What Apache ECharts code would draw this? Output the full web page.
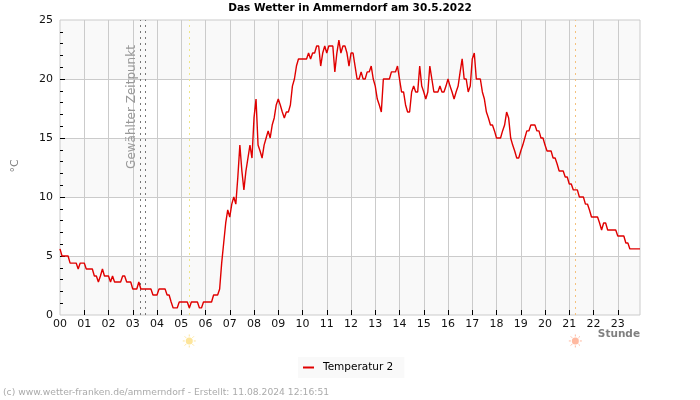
<!DOCTYPE html>
<html>
<head>
<meta charset="utf-8">
<title>Das Wetter in Ammerndorf</title>
<script src="https://cdn.jsdelivr.net/npm/echarts@6/dist/echarts.min.js"></script>
<style>
  html, body { margin: 0; padding: 0; background: #fff; }
  #chart { width: 700px; height: 400px; }
</style>
</head>
<body>
<div id="chart"></div>
<script>
// Temperatur 2, one row per hour, 5 minute readings
const temps = [
  5.6, 5.0, 5.0, 5.0, 5.0, 4.4, 4.4, 4.4, 4.4, 3.9, 4.4, 4.4,
  4.4, 3.9, 3.9, 3.9, 3.9, 3.3, 3.3, 2.8, 3.3, 3.9, 3.3, 3.3,
  3.3, 2.8, 3.3, 2.8, 2.8, 2.8, 2.8, 3.3, 3.3, 2.8, 2.8, 2.8,
  2.2, 2.2, 2.2, 2.8, 2.2, 2.2, 2.2, 2.2, 2.2, 2.2, 1.7, 1.7,
  1.7, 2.2, 2.2, 2.2, 2.2, 1.7, 1.7, 1.1, 0.6, 0.6, 0.6, 1.1,
  1.1, 1.1, 1.1, 1.1, 0.6, 1.1, 1.1, 1.1, 1.1, 0.6, 0.6, 1.1,
  1.1, 1.1, 1.1, 1.1, 1.7, 1.7, 1.7, 2.2, 4.4, 6.1, 7.8, 8.9,
  8.3, 9.4, 10.0, 9.4, 11.7, 14.4, 12.2, 10.6, 12.2, 13.3, 14.4, 13.3,
  16.7, 18.3, 14.4, 13.9, 13.3, 14.4, 15.0, 15.6, 15.0, 16.1, 16.7, 17.8,
  18.3, 17.8, 17.2, 16.7, 17.2, 17.2, 17.8, 19.4, 20.0, 21.1, 21.7, 21.7,
  21.7, 21.7, 21.7, 22.2, 21.7, 22.2, 22.2, 22.8, 22.8, 21.1, 22.2, 22.8,
  22.2, 22.8, 22.8, 22.8, 20.6, 22.2, 23.3, 22.2, 22.8, 22.8, 22.2, 21.1,
  22.2, 22.2, 21.1, 20.0, 20.0, 20.6, 20.0, 20.0, 20.6, 20.6, 21.1, 20.0,
  19.4, 18.3, 17.8, 17.2, 20.0, 20.0, 20.0, 20.0, 20.6, 20.6, 20.6, 21.1,
  20.0, 18.9, 18.9, 17.8, 17.2, 17.2, 18.9, 19.4, 18.9, 18.9, 21.1, 19.4,
  18.9, 18.3, 18.9, 21.1, 20.0, 18.9, 18.9, 18.9, 19.4, 18.9, 18.9, 19.4,
  20.0, 19.4, 18.9, 18.3, 18.9, 19.4, 20.6, 21.7, 20.0, 20.0, 18.9, 19.4,
  21.7, 22.2, 20.0, 20.0, 20.0, 18.9, 18.3, 17.2, 16.7, 16.1, 16.1, 15.6,
  15.0, 15.0, 15.0, 15.6, 16.1, 17.2, 16.7, 15.0, 14.4, 13.9, 13.3, 13.3,
  13.9, 14.4, 15.0, 15.6, 15.6, 16.1, 16.1, 16.1, 15.6, 15.6, 15.0, 15.0,
  14.4, 13.9, 13.9, 13.9, 13.3, 13.3, 12.8, 12.2, 12.2, 12.2, 11.7, 11.7,
  11.1, 11.1, 10.6, 10.6, 10.6, 10.0, 10.0, 10.0, 9.4, 9.4, 8.9, 8.3,
  8.3, 8.3, 8.3, 7.8, 7.2, 7.8, 7.8, 7.2, 7.2, 7.2, 7.2, 7.2,
  6.7, 6.7, 6.7, 6.7, 6.1, 6.1, 5.6, 5.6, 5.6, 5.6, 5.6, 5.6
];
const selectedHours = [3.29, 3.52];
const sunHours = [5.33, 21.25];
const sunColors = ['#fde59a', '#ffb9a0'];
const hourTicks = [1, 2, 3, 4, 5, 6, 7, 8, 9, 10, 11, 12, 13, 14, 15, 16, 17, 18, 19, 20, 21, 22, 23];
const tempMajorTicks = [5, 10, 15, 20];
const tempMinorTicks = [1, 2, 3, 4, 6, 7, 8, 9, 11, 12, 13, 14, 16, 17, 18, 19, 21, 22, 23, 24];

const FONT = '"DejaVu Sans"';
const GRID_COLOR = '#cbcbcb';
const TEXT_Z = 10;

const chart = echarts.init(document.getElementById('chart'));

function vline(hour, color) {
  return { xAxis: hour, lineStyle: { color: color, type: [2, 4], width: 1 } };
}

// sun sits below the plot, drawn on the hour scale
function renderSun(params, api) {
  const c = api.coord([api.value(0), api.value(1)]);
  const color = sunColors[params.dataIndex];
  const children = [{
    type: 'circle',
    shape: { cx: c[0], cy: c[1], r: 3.5 },
    style: { fill: color }
  }];
  for (let i = 0; i < 8; i++) {
    const a = i * Math.PI / 4;
    children.push({
      type: 'line',
      shape: {
        x1: c[0] + Math.cos(a) * 4.5,
        y1: c[1] + Math.sin(a) * 4.5,
        x2: c[0] + Math.cos(a) * 6.5,
        y2: c[1] + Math.sin(a) * 6.5
      },
      style: { stroke: color, fill: null, lineWidth: 1 }
    });
  }
  return { type: 'group', children: children };
}

const option = {
  animation: false,
  backgroundColor: '#fff',
  textStyle: { fontFamily: FONT },
  title: {
    text: 'Das Wetter in Ammerndorf am 30.5.2022',
    left: 'center',
    top: 3,
    padding: 0,
    textStyle: { fontFamily: FONT, fontSize: 10.5, fontWeight: 'bold', color: '#000' }
  },
  legend: {
    left: 298,
    top: 357,
    padding: [5, 11, 5, 5],
    backgroundColor: '#f9f9f9',
    itemWidth: 11,
    itemHeight: 2,
    data: [{ name: 'Temperatur 2', icon: 'rect' }],
    textStyle: { fontFamily: FONT, fontSize: 10.5, color: '#000', padding: [0, 0, 0, 4] }
  },
  grid: {
    left: 60,
    right: 60,
    top: 20,
    bottom: 85,
    show: true,
    borderColor: GRID_COLOR,
    borderWidth: 1,
    backgroundColor: 'transparent'
  },
  xAxis: {
    type: 'value',
    min: 0,
    max: (temps.length - 1) / 12,
    interval: 1,
    axisLine: { show: false },
    axisTick: { inside: true, length: 5, customValues: hourTicks, lineStyle: { color: '#000' } },
    axisLabel: {
      showMaxLabel: false,
      margin: 4,
      fontFamily: FONT,
      fontSize: 11,
      color: '#111',
      formatter: (v) => String(v).padStart(2, '0')
    },
    splitLine: { show: true, lineStyle: { color: GRID_COLOR } }
  },
  yAxis: [
    {
      type: 'value',
      min: 0,
      max: 25,
      interval: 5,
      axisLine: { show: false },
      axisTick: { inside: true, length: 5, customValues: tempMajorTicks, lineStyle: { color: '#000' } },
      axisLabel: { margin: 7, fontFamily: FONT, fontSize: 11, color: '#111' },
      splitLine: { show: true, lineStyle: { color: GRID_COLOR } }
    },
    {
      // only the short ticks between the labelled ones
      type: 'value',
      position: 'left',
      min: 0,
      max: 25,
      interval: 1,
      axisLine: { show: false },
      axisTick: { inside: true, length: 3, customValues: tempMinorTicks, lineStyle: { color: '#000' } },
      axisLabel: { show: false },
      splitLine: { show: false }
    },
    {
      // custom tick values cut the bands short, so they get their own axis, under the grid lines
      type: 'value',
      position: 'left',
      z: -1,
      min: 0,
      max: 25,
      interval: 5,
      axisLine: { show: false },
      axisTick: { show: false },
      axisLabel: { show: false },
      splitLine: { show: false },
      splitArea: { show: true, areaStyle: { color: ['#f9f9f9', '#fff'] } }
    }
  ],
  series: [
    {
      name: 'Temperatur 2',
      type: 'line',
      symbol: 'none',
      z: 5,
      lineStyle: { color: '#e00000', width: 1.4 },
      itemStyle: { color: '#e00000' },
      data: temps.map((t, i) => [i / 12, t]),
      markLine: {
        silent: true,
        symbol: 'none',
        label: { show: false },
        data: [
          vline(selectedHours[0], '#777'),
          vline(selectedHours[1], '#777'),
          vline(sunHours[0], '#efe68a'),
          vline(sunHours[1], '#f5c27e')
        ]
      }
    },
    {
      name: 'Sonne',
      type: 'custom',
      silent: true,
      renderItem: renderSun,
      encode: { x: 0, y: 1 },
      data: sunHours.map((h) => [h, -2.2])
    }
  ],
  graphic: [
    {
      type: 'text',
      z: TEXT_Z,
      x: 15,
      y: 166,
      rotation: Math.PI / 2,
      style: { text: '°C', fontFamily: FONT, fontSize: 11, fill: '#808080', textAlign: 'center', textVerticalAlign: 'middle' }
    },
    {
      type: 'text',
      z: TEXT_Z,
      x: 132,
      y: 107,
      rotation: Math.PI / 2,
      style: { text: 'Gewählter Zeitpunkt', fontFamily: FONT, fontSize: 12, fill: '#999', textAlign: 'center', textVerticalAlign: 'middle' }
    },
    {
      type: 'text',
      z: TEXT_Z,
      x: 640,
      y: 334,
      style: { text: 'Stunde', fontFamily: FONT, fontSize: 10.5, fontWeight: 'bold', fill: '#808080', textAlign: 'right', textVerticalAlign: 'middle' }
    },
    {
      type: 'text',
      z: TEXT_Z,
      x: 3,
      y: 393,
      style: { text: '(c) www.wetter-franken.de/ammerndorf - Erstellt: 11.08.2024 12:16:51', fontFamily: FONT, fontSize: 9.2, fill: '#aaa', textAlign: 'left', textVerticalAlign: 'middle' }
    }
  ]
};

chart.setOption(option);
</script>
</body>
</html>
